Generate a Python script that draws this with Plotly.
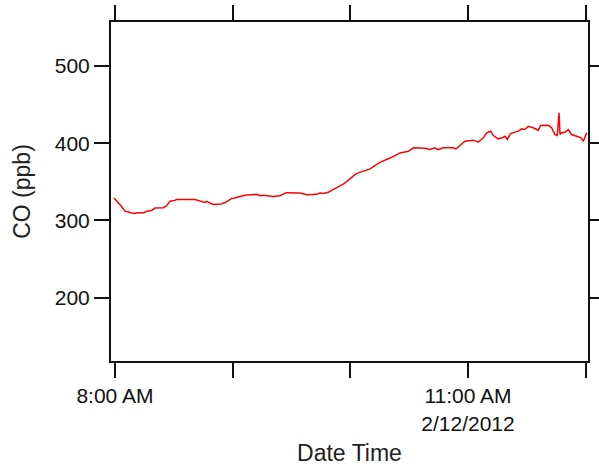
import plotly.graph_objects as go

times = [
    "07:59:30", "08:01:42", "08:03:06", "08:05:06", "08:07:36", "08:09:48", "08:11:54",
    "08:14:54", "08:16:12", "08:18:42", "08:20:24", "08:24:36", "08:26:24", "08:28:00",
    "08:30:36", "08:31:24", "08:40:48", "08:44:12", "08:45:54", "08:46:42", "08:48:24",
    "08:50:00", "08:54:18", "08:56:54", "08:59:30", "09:01:12", "09:03:42", "09:07:06",
    "09:12:24", "09:13:54", "09:15:36", "09:20:42", "09:24:06", "09:27:30", "09:34:18",
    "09:37:48", "09:42:54", "09:44:30", "09:46:12", "09:48:48", "09:50:30", "09:53:00",
    "09:56:24", "09:58:54", "10:02:18", "10:04:06", "10:06:36", "10:10:00", "10:15:06",
    "10:18:30", "10:21:06", "10:25:18", "10:29:36", "10:32:06", "10:33:48", "10:38:06",
    "10:40:36", "10:43:06", "10:44:48", "10:47:24", "10:52:30", "10:53:48", "10:55:54",
    "10:58:24", "11:02:42", "11:05:12", "11:07:48", "11:09:30", "11:11:30", "11:12:54",
    "11:15:24", "11:17:24", "11:18:48", "11:20:00", "11:21:42", "11:23:54", "11:25:36",
    "11:27:24", "11:29:00", "11:30:42", "11:33:12", "11:35:48", "11:37:00", "11:40:54",
    "11:42:36", "11:44:18", "11:45:30", "11:46:24", "11:46:54", "11:47:42", "11:49:24",
    "11:51:06", "11:52:48", "11:55:24", "11:57:36", "11:58:48", "12:00:30",
]
co_ppb = [
    329, 323, 319, 312, 310, 309, 310,
    310, 312, 313, 316, 316.5, 319, 325,
    326, 327, 327, 324, 323.4, 324.7, 322.6,
    320.8, 321.3, 324, 328.6, 329, 331, 333,
    333.8, 332, 332.5, 331, 332, 336, 335.6,
    333.4, 333.8, 335.6, 335, 336.4, 339, 342.5,
    347, 352, 359.4, 361.6, 363.6, 366.8, 375.3,
    378.8, 381.8, 387.5, 389.6, 394, 394, 393.5,
    391.8, 394, 391.8, 394, 394, 392.7, 397,
    402.6, 404, 401.3, 407, 413.5, 415.6, 410,
    405.7, 407, 409, 404.8, 412.6, 414.8, 415.6,
    418.7, 417.8, 422, 420, 416.9, 423, 423.4,
    420, 411.3, 410, 439.5, 411.3, 413.5, 414.3,
    417.8, 411.3, 409, 407, 402.6, 413.5,
]
date = "2012-02-12"
x_vals = [f"{date} {t}" for t in times]

tick_times = ["08:00", "09:00", "10:00", "11:00", "12:00"]
tick_labels = ["8:00 AM", "", "", "11:00 AM<br>2/12/2012", ""]
y_ticks = [200, 300, 400, 500]

fig = go.Figure()
fig.add_trace(go.Scatter(
    x=x_vals, y=co_ppb, mode="lines",
    line=dict(color="#ff0000", width=1.5),
    showlegend=False,
))

ink = "#111111"
font = dict(family="Liberation Sans, Arial, sans-serif", size=19, color="#222222")
tickfont = dict(family="Liberation Sans, Arial, sans-serif", size=21, color=ink)

fig.update_layout(
    width=599, height=466,
    margin=dict(l=111, r=11, t=22, b=105),
    paper_bgcolor="white", plot_bgcolor="white",
    font=font,
    xaxis=dict(
        range=[f"{date} 07:58:00", f"{date} 12:01:10"],
        tickmode="array",
        tickvals=[f"{date} {t}" for t in tick_times],
        ticktext=tick_labels, tickfont=tickfont,
        ticks="outside", ticklen=15, tickwidth=2, tickcolor=ink,
        showline=True, linewidth=2, linecolor=ink,
        mirror="ticks", showgrid=False, zeroline=False, automargin=False,
        title=dict(text="Date Time", standoff=12),
    ),
    yaxis=dict(
        range=[118, 557],
        tickmode="array", tickvals=y_ticks, tickfont=tickfont,
        ticks="outside", ticklen=15, tickwidth=2, tickcolor=ink,
        showline=True, linewidth=2, linecolor=ink,
        mirror="ticks", showgrid=False, zeroline=False, automargin=False,
        title=dict(text="CO (ppb)", standoff=18),
    ),
)

fig.write_html("out.html")
